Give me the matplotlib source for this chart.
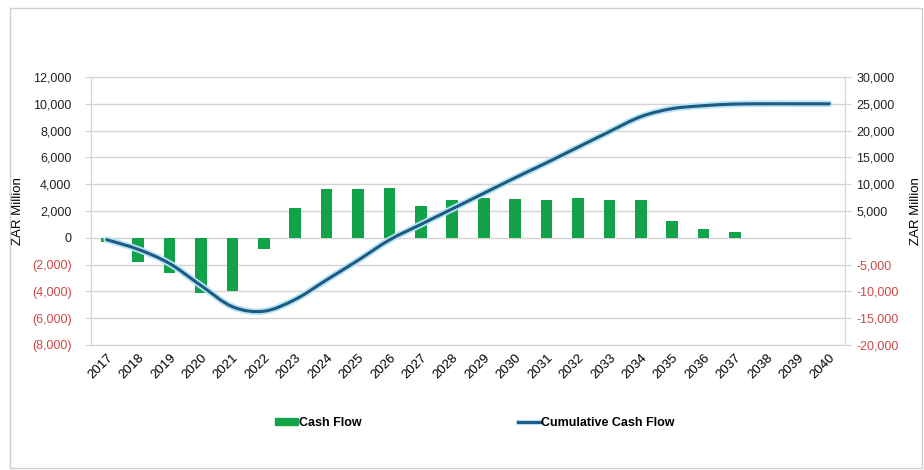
import matplotlib.pyplot as plt
import matplotlib.patheffects as pe
from matplotlib.patches import Rectangle, PathPatch
from matplotlib.path import Path
from matplotlib.lines import Line2D
from matplotlib.ticker import FuncFormatter

plt.rcParams['font.family'] = ['Liberation Sans', 'DejaVu Sans']

years = [str(y) for y in range(2017, 2041)]
cash_flow = [-350, -1800, -2650, -4100, -3950, -850, 2200, 3650, 3650, 3750,
             2400, 2850, 2950, 2900, 2850, 2950, 2850, 2850, 1270, 650,
             400, 0, 0, 0]
cumulative = [-350, -2150, -4800, -8900, -12850, -13700, -11500, -7850, -4200, -400,
              2500, 5400, 8300, 11200, 14000, 16900, 19800, 22600, 24100, 24650,
              24950, 25000, 25000, 25000]

green = '#12a24a'
blue = '#1f5a85'
glow = '#b8e4f2'
neg_red = '#d04848'
grid_col = '#d4d4d4'


def smooth_path(xs, ys):
    # smoothed line like a spreadsheet "smoothed line": cubic bezier through every point
    pts = list(zip(xs, ys))
    verts = [pts[0]]
    codes = [Path.MOVETO]
    n = len(pts)
    for i in range(n - 1):
        p0 = pts[max(i - 1, 0)]
        p1 = pts[i]
        p2 = pts[i + 1]
        p3 = pts[min(i + 2, n - 1)]
        c1 = (p1[0] + (p2[0] - p0[0]) / 6, p1[1] + (p2[1] - p0[1]) / 6)
        c2 = (p2[0] - (p3[0] - p1[0]) / 6, p2[1] - (p3[1] - p1[1]) / 6)
        verts += [c1, c2, p2]
        codes += [Path.CURVE4] * 3
    return Path(verts, codes)


fig = plt.figure(figsize=(9.24, 4.70), dpi=100)
fig.patches.append(Rectangle((10 / 924, 1 - 468 / 470), 912 / 924, 460 / 470,
                             transform=fig.transFigure, fill=False,
                             edgecolor='#d0d0d0', lw=1))

ax = fig.add_axes([91 / 924, 1 - 345 / 470, (845 - 91) / 924, (345 - 77) / 470])
x = list(range(len(years)))
ax.bar(x, cash_flow, width=0.37, color=green, zorder=2)
ax.set_xlim(-0.5, len(years) - 0.5)
ax.set_ylim(-8000, 12000)
ax.set_yticks(range(-8000, 12001, 2000))
ax.yaxis.set_major_formatter(FuncFormatter(
    lambda v, p: '0' if v == 0 else (f'{v:,.0f}' if v > 0 else f'({-v:,.0f})')))
ax.grid(axis='y', color=grid_col, lw=1, zorder=0)
ax.set_xticks(x)
ax.set_xticklabels(years, rotation=45, ha='right', rotation_mode='anchor', fontsize=9.5)
ax.tick_params(axis='x', length=0, pad=5)
ax.tick_params(axis='y', labelsize=9, length=4, color=grid_col, pad=10)
for lab, v in zip(ax.get_yticklabels(), ax.get_yticks()):
    lab.set_color(neg_red if v < 0 else '#222222')
for s in ax.spines.values():
    s.set_color(grid_col)
ax.set_ylabel('ZAR Million', fontsize=9.5, labelpad=6)

ax2 = ax.twinx()
curve = PathPatch(smooth_path(x, cumulative), fill=False, edgecolor=blue, lw=2.2,
                  capstyle='round', zorder=3,
                  path_effects=[pe.Stroke(linewidth=4.8, foreground=glow), pe.Normal()])
ax2.add_patch(curve)
ax2.set_ylim(-20000, 30000)
ax2.set_yticks(range(-20000, 30001, 5000))
ax2.yaxis.set_major_formatter(FuncFormatter(
    lambda v, p: '' if v == 0 else f'{v:,.0f}'))
ax2.tick_params(axis='y', labelsize=9, length=4, color=grid_col, pad=4)
for lab, v in zip(ax2.get_yticklabels(), ax2.get_yticks()):
    lab.set_color(neg_red if v < 0 else '#222222')
for s in ax2.spines.values():
    s.set_color(grid_col)
ax2.set_ylabel('ZAR Million', fontsize=9.5, labelpad=8)

handles = [Rectangle((0, 0), 1, 1, color=green),
           Line2D([0], [0], color=blue, lw=2.2,
                  path_effects=[pe.Stroke(linewidth=3.8, foreground=glow), pe.Normal()])]
fig.legend(handles, ['Cash Flow', 'Cumulative Cash Flow'], loc='center',
           bbox_to_anchor=(475 / 924, 1 - 423 / 470), ncol=2, frameon=False,
           prop={'size': 9, 'weight': 'bold'}, handlelength=1.8, handleheight=0.5,
           handletextpad=0.1, columnspacing=12.5)

fig.savefig('out.png', dpi=100)
